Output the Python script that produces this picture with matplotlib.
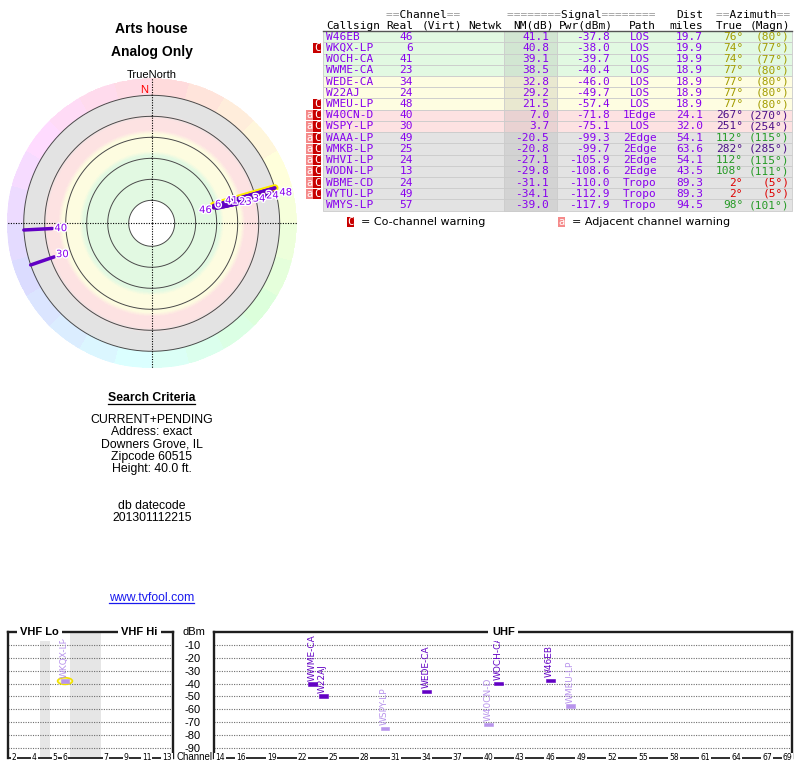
import numpy as np
import matplotlib
matplotlib.use('Agg')
import matplotlib.pyplot as plt
import matplotlib.patheffects as pe
import matplotlib.transforms as mtrans
from matplotlib.patches import Rectangle, Ellipse
import colorsys

# ---------------- data ----------------
callsigns = ['W46EB', 'WKQX-LP', 'WOCH-CA', 'WWME-CA', 'WEDE-CA', 'W22AJ', 'WMEU-LP', 'W40CN-D',
             'WSPY-LP', 'WAAA-LP', 'WMKB-LP', 'WHVI-LP', 'WODN-LP', 'WBME-CD', 'WYTU-LP', 'WMYS-LP']
real_ch = [46, 6, 41, 23, 34, 24, 48, 40, 30, 49, 25, 24, 13, 24, 49, 57]
nm_db = [41.1, 40.8, 39.1, 38.5, 32.8, 29.2, 21.5, 7.0, 3.7, -20.5, -20.8, -27.1, -29.8, -31.1, -34.1, -39.0]
pwr_dbm = [-37.8, -38.0, -39.7, -40.4, -46.0, -49.7, -57.4, -71.8, -75.1, -99.3, -99.7, -105.9, -108.6,
           -110.0, -112.9, -117.9]
path_type = ['LOS', 'LOS', 'LOS', 'LOS', 'LOS', 'LOS', 'LOS', '1Edge', 'LOS', '2Edge', '2Edge', '2Edge',
             '2Edge', 'Tropo', 'Tropo', 'Tropo']
dist_mi = [19.7, 19.9, 19.9, 18.9, 18.9, 18.9, 18.9, 24.1, 32.0, 54.1, 63.6, 54.1, 43.5, 89.3, 89.3, 94.5]
az_true = [76, 74, 74, 77, 77, 77, 77, 267, 251, 112, 282, 112, 108, 2, 2, 98]
az_magn = [80, 77, 77, 80, 80, 80, 80, 270, 254, 115, 285, 115, 111, 5, 5, 101]
co_channel = [0, 1, 0, 0, 0, 0, 1, 1, 1, 1, 1, 1, 1, 1, 1, 0]
adj_channel = [0, 0, 0, 0, 0, 0, 0, 1, 1, 1, 1, 1, 1, 1, 1, 0]
analog = [0, 1, 0, 0, 0, 0, 0, 0, 0, 0, 0, 0, 0, 0, 0, 0]

title_lines = ['Arts house', 'Analog Only']
criteria_title = 'Search Criteria'
criteria_lines = ['CURRENT+PENDING', 'Address: exact', 'Downers Grove, IL', 'Zipcode 60515', 'Height: 40.0 ft.']
datecode_lines = ['db datecode', '201301112215']
site_url = 'www.tvfool.com'

polar_rings = [80, 60, 40, 20, 0, -20]
vhf_tick_ch = [2, 4, 5, 6, 7, 9, 11, 13]
uhf_tick_ch = [14, 16, 19, 22, 25, 28, 31, 34, 37, 40, 43, 46, 49, 52, 55, 58, 61, 64, 67, 69]
dbm_levels = [-10, -20, -30, -40, -50, -60, -70, -80, -90]

# ---------------- style ----------------
W, H = 800, 768
PURPLE = '#8800ee'
LINE_PURPLE = '#6200c4'
FADED = '#b894ec'
SANS = ['Liberation Sans', 'DejaVu Sans']
MONO = 'DejaVu Sans Mono'
ZONES = [(35, '#e2f9e2', '#d2e6d2'), (15, '#fefde1', '#e9e8d0'), (0, '#fde2e2', '#e9d2d2'),
         (-1e9, '#e3e3e3', '#d3d3d3')]


def zone(nm):
    for thr, bg, dark in ZONES:
        if nm >= thr:
            return bg, dark


def az_color(a):
    if a < 30 or a >= 330:
        return '#dd0000'
    if a < 90:
        return '#a39c00'
    if a < 150:
        return '#259a25'
    if a < 210:
        return '#008c9a'
    return '#4c1088'


def rect(x0, y0, x1, y1):
    return [x0 / W, 1 - y1 / H, (x1 - x0) / W, (y1 - y0) / H]


fig = plt.figure(figsize=(8, 7.68), dpi=100)
ov = fig.add_axes([0, 0, 1, 1])
ov.set_xlim(0, W)
ov.set_ylim(H, 0)
ov.axis('off')
ov.set_zorder(10)

# ---------------- left texts ----------------
ov.text(151.7, 29.3, title_lines[0], ha='center', va='center', fontsize=10, fontweight='bold', family=SANS)
ov.text(151.7, 51.7, title_lines[1], ha='center', va='center', fontsize=10, fontweight='bold', family=SANS)
ov.text(151.7, 74.5, 'TrueNorth', ha='center', va='center', fontsize=8, family=SANS)

t_crit = ov.text(151.7, 398.3, criteria_title, ha='center', va='center', fontsize=8.8, fontweight='bold',
                 family=SANS)
for k, s in enumerate(criteria_lines):
    ov.text(151.7, 420 + 12.3 * k, s, ha='center', va='center', fontsize=8.8, family=SANS)
for k, s in enumerate(datecode_lines):
    ov.text(151.7, 506 + 12.3 * k, s, ha='center', va='center', fontsize=8.8, family=SANS)
t_url = ov.text(151.7, 598.3, site_url, ha='center', va='center', fontsize=8.8, family=SANS, color='#1a1aee')

# ---------------- polar plot ----------------
NM_CENTER, NM_EDGE, NM_OUTER = 101.9, -36.19, -20
pax = fig.add_axes(rect(6.7, 78.3, 296.7, 368.3), projection='polar')
pax.set_theta_zero_location('N')
pax.set_theta_direction(-1)
pax.set_ylim(NM_CENTER, NM_EDGE)
pax.set_xticks([])
pax.set_yticks([])
pax.grid(False)
pax.spines['polar'].set_visible(False)
pax.patch.set_alpha(0)

th_e = np.linspace(0, 2 * np.pi, 361)
r_e = np.linspace(NM_CENTER, NM_EDGE, 300)
th_c = 0.5 * (th_e[1:] + th_e[:-1])
r_c = 0.5 * (r_e[1:] + r_e[:-1])
stops_nm = [-20, -2.5, 2.5, 13, 17, 33, 37, 80]
hexs = ['#e3e3e3', '#e3e3e3', '#fde2e2', '#fde2e2', '#fdfce0', '#fdfce0', '#e2f9e2', '#e2f9e2']
stops_rgb = np.array([matplotlib.colors.to_rgb(h) for h in hexs])
C = np.ones((len(r_c), len(th_c), 3))
for j, nm in enumerate(r_c):
    if nm > 80:
        continue
    if nm >= NM_OUTER:
        col = [np.interp(nm, stops_nm, stops_rgb[:, k]) for k in range(3)]
        C[j, :, :] = col
    else:
        deg = np.rad2deg(th_c)
        seg = (np.floor(deg / 15) * 15 + 7.5) % 360
        for i, sdeg in enumerate(seg):
            C[j, i, :] = colorsys.hsv_to_rgb((sdeg - 8) % 360 / 360, 0.14, 1.0)
TH, RR = np.meshgrid(th_e, r_e)
pax.pcolormesh(TH, RR, C, shading='flat', zorder=0, rasterized=True)

tt = np.linspace(0, 2 * np.pi, 400)
for ring in polar_rings:
    pax.plot(tt, np.full_like(tt, ring), color='#4a4a4a', lw=0.7, zorder=2)
for ang in [0, 90, 180, 270]:
    pax.plot([np.deg2rad(ang)] * 2, [NM_CENTER, NM_EDGE], color='black', lw=0.8, ls=(0, (1, 1.3)), zorder=3)

pax.text(0, -25, 'N ', ha='right', va='center', color='red', fontsize=8, family=SANS, zorder=5)

for i in range(len(callsigns)):
    if nm_db[i] <= NM_OUTER:
        continue
    th = np.deg2rad(az_true[i])
    if analog[i]:
        pax.plot([th, th], [nm_db[i], NM_OUTER], color='#ffee00', lw=5.5, solid_capstyle='round', zorder=3.5)
for i in range(len(callsigns)):
    if nm_db[i] <= NM_OUTER:
        continue
    th = np.deg2rad(az_true[i])
    pax.plot([th, th], [nm_db[i], NM_OUTER], color=LINE_PURPLE, lw=2.5, solid_capstyle='round', zorder=4)

# label layout (avoid overlap)
def rpx(nm):
    return 107 - 1.05 * nm

placed = []
for i in np.argsort(-np.array(nm_db)):
    if nm_db[i] <= NM_OUTER:
        continue
    th = np.deg2rad(az_true[i])
    r = rpx(nm_db[i]) - 8.5
    while any(np.hypot(r * np.sin(th) - px, r * np.cos(th) - py) < 13.5 for px, py in placed):
        r += 0.5
    placed.append((r * np.sin(th), r * np.cos(th)))
    pax.text(th, (107 - r) / 1.05, str(real_ch[i]), ha='center', va='center', fontsize=7.2,
             color=PURPLE, family='DejaVu Sans', zorder=6,
             path_effects=[pe.withStroke(linewidth=2, foreground='white')])

# ---------------- table ----------------
ROW0, DY = 36.7, 11.22
TX0, TX1 = 323, 792
fs = 8
gray_eq = '#9a9a9a'


def hdr_eq(x, y, s, ha):
    eq = ''.join('=' if c == '=' else ' ' for c in s)
    wd = ''.join(' ' if c == '=' else c for c in s)
    ov.text(x, y, eq, ha=ha, va='center', fontsize=fs, family=MONO, color=gray_eq)
    ov.text(x, y, wd, ha=ha, va='center', fontsize=fs, family=MONO, color='black')


hdr_eq(423.3, 14.5, '==Channel==', 'center')
hdr_eq(581.7, 14.5, '========Signal========', 'center')
ov.text(703, 14.5, 'Dist', ha='right', va='center', fontsize=fs, family=MONO)
hdr_eq(753.5, 14.5, '==Azimuth==', 'center')
h2 = [(326, 'Callsign', 'left'), (413, 'Real', 'right'), (421.7, '(Virt)', 'left'), (468.3, 'Netwk', 'left'),
      (554, 'NM(dB)', 'right'), (613, 'Pwr(dBm)', 'right'), (642.5, 'Path', 'center'),
      (703, 'miles', 'right'), (743, 'True', 'right'), (790, '(Magn)', 'right')]
for x, s, ha in h2:
    ov.text(x, 25.7, s, ha=ha, va='center', fontsize=fs, family=MONO)
ov.plot([TX0, TX1], [31, 31], color='#555555', lw=1)

for i in range(len(callsigns)):
    yc = ROW0 + DY * i
    bg, dark = zone(nm_db[i])
    ov.add_patch(Rectangle((TX0, yc - DY / 2), TX1 - TX0, DY, fc=bg, ec='#cbcbcb', lw=0.6))
    ov.add_patch(Rectangle((504, yc - DY / 2), 53, DY, fc=dark, ec='#cbcbcb', lw=0.6))
    kw = dict(va='center', fontsize=fs, family=MONO, color=PURPLE)
    ov.text(326, yc, callsigns[i], ha='left', **kw)
    ov.text(413, yc, str(real_ch[i]), ha='right', **kw)
    ov.text(549, yc, f'{nm_db[i]:.1f}', ha='right', **kw)
    ov.text(610, yc, f'{pwr_dbm[i]:.1f}', ha='right', **kw)
    ov.text(640, yc, path_type[i], ha='center', **kw)
    ov.text(703, yc, f'{dist_mi[i]:.1f}', ha='right', **kw)
    ac = az_color(az_true[i])
    ov.text(743, yc, f'{az_true[i]}°', ha='right', va='center', fontsize=fs, family=MONO, color=ac)
    ov.text(789.5, yc, f'({az_magn[i]}°)', ha='right', va='center', fontsize=fs, family=MONO, color=ac)
    if co_channel[i]:
        ov.add_patch(Rectangle((313.3, yc - DY / 2 + 0.5), 7.4, DY - 1, fc='#c80000', ec='none'))
        ov.text(317, yc, 'C', ha='center', va='center', fontsize=7.5, family=MONO, color='white')
    if adj_channel[i]:
        ov.add_patch(Rectangle((306, yc - DY / 2 + 0.5), 7.3, DY - 1, fc='#f58a8a', ec='none'))
        ov.text(309.6, yc, 'a', ha='center', va='center', fontsize=7.5, family=MONO, color='white')

ly = 221.7
ov.add_patch(Rectangle((346.7, ly - 5.2), 6.8, 10.4, fc='#c80000', ec='none'))
ov.text(350.1, ly, 'C', ha='center', va='center', fontsize=7.5, family=MONO, color='white')
ov.text(361, ly, '= Co-channel warning', ha='left', va='center', fontsize=8, family='DejaVu Sans')
ov.add_patch(Rectangle((558.3, ly - 5.2), 6.8, 10.4, fc='#f58a8a', ec='none'))
ov.text(561.7, ly, 'a', ha='center', va='center', fontsize=7.5, family=MONO, color='white')
ov.text(571.7, ly, '= Adjacent channel warning', ha='left', va='center', fontsize=8, family='DejaVu Sans')

# ---------------- spectrum ----------------
YLO = -98


def vhf_slot(ch):
    if ch <= 4:
        return ch - 2
    if ch <= 6:
        return ch - 1
    return ch + 2


SP_TOP, SP_BOT = 632.3, 758
vax = fig.add_axes(rect(8, SP_TOP, 173, SP_BOT))
uax = fig.add_axes(rect(214, SP_TOP, 792, SP_BOT))
vax.set_xlim(-0.59, 15.59)
uax.set_xlim(13.42, 69.43)
for ax in (vax, uax):
    ax.set_ylim(YLO, 0)
    ax.set_xticks([])
    for s in ['left', 'right', 'top']:
        ax.spines[s].set_linewidth(1.7)
        ax.spines[s].set_color('#1e1e1e')
    ax.spines['bottom'].set_linewidth(1.3)
    ax.spines['bottom'].set_color('#1e1e1e')
    for lv in dbm_levels:
        ax.axhline(lv, color='#6e6e6e', lw=0.8, ls=(0, (1, 1.2)), zorder=1)
vax.set_yticks([])
uax.set_yticks(dbm_levels)
uax.set_yticklabels([str(v) for v in dbm_levels])
uax.tick_params(axis='y', length=0, pad=9.5, labelsize=8)
for lab in uax.get_yticklabels():
    lab.set_family(SANS)
uax.text(-0.0346, 0, 'dBm', transform=mtrans.blended_transform_factory(uax.transAxes, uax.transData),
         ha='center', va='center', fontsize=8, family=SANS)

vax.axvspan(vhf_slot(4) + 0.5, vhf_slot(5) - 0.5, color='#e6e6e6', zorder=0, lw=0)
vax.axvspan(vhf_slot(6) + 0.5, vhf_slot(7) - 0.5, color='#e6e6e6', zorder=0, lw=0)

lab_bbox = dict(facecolor='white', edgecolor='none', pad=0.6)
for ch in vhf_tick_ch:
    vax.text(vhf_slot(ch), YLO, str(ch), ha='center', va='center', fontsize=5.5, family='DejaVu Sans',
             bbox=lab_bbox, clip_on=False, zorder=5)
for ch in uhf_tick_ch:
    uax.text(ch, YLO, str(ch), ha='center', va='center', fontsize=5.5, family='DejaVu Sans',
             bbox=lab_bbox, clip_on=False, zorder=5)
ov.text(194.5, 757.5, 'Channel', ha='center', va='center', fontsize=7, family=SANS)

band_bbox = dict(facecolor='white', edgecolor='none', pad=2.5)
vax.text(2.5, 0, 'VHF Lo', ha='center', va='center', fontsize=8, fontweight='bold', family=SANS,
         bbox=band_bbox, clip_on=False, zorder=6)
vax.text(12.3, 0, 'VHF Hi', ha='center', va='center', fontsize=8, fontweight='bold', family=SANS,
         bbox=band_bbox, clip_on=False, zorder=6)
uax.text(41.45, 0, 'UHF', ha='center', va='center', fontsize=8, fontweight='bold', family=SANS,
         bbox=band_bbox, clip_on=False, zorder=6)

for i in range(len(callsigns)):
    if pwr_dbm[i] <= YLO:
        continue
    ch = real_ch[i]
    if ch <= 13:
        ax, x = vax, vhf_slot(ch)
    else:
        ax, x = uax, ch
    warned = co_channel[i] or adj_channel[i]
    fc = FADED if warned else LINE_PURPLE
    if analog[i]:
        ax.add_patch(Ellipse((x, pwr_dbm[i]), 1.45, 5.2, fc='#fffbb0', ec='#f0e000', lw=1.2, zorder=3))
    ax.bar(x, 2.6, bottom=pwr_dbm[i] - 1.3, width=0.85, color=fc, edgecolor=fc, lw=0.4, zorder=4)
    ax.text(x - 0.05, pwr_dbm[i] + 2.6, callsigns[i], rotation=90, ha='center', va='bottom', fontsize=6.5,
            family='DejaVu Sans', color=FADED if warned else LINE_PURPLE, zorder=5, clip_on=False)

# underlines from rendered extents
fig.canvas.draw()
inv = ov.transData.inverted()
for t, yy, col in [(t_crit, 404, 'black'), (t_url, 603, '#1a1aee')]:
    bb = t.get_window_extent()
    (xa, _), (xb, _) = inv.transform([(bb.x0, bb.y0), (bb.x1, bb.y0)])
    ov.plot([xa, xb], [yy, yy], color=col, lw=0.9)

fig.savefig('out.png', dpi=100)
